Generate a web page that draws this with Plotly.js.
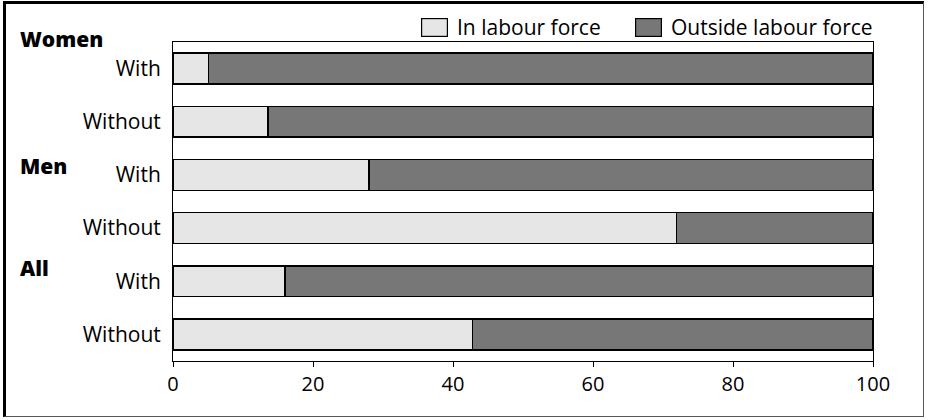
<!DOCTYPE html>
<html>
<head>
<meta charset="utf-8">
<script src="https://cdn.plot.ly/plotly-3.0.1.min.js"></script>
<style>
  html, body { margin: 0; padding: 0; background: #fff; }
  #wrap { position: relative; width: 928px; height: 420px; }
  #chart { width: 928px; height: 420px; }
  #frame {
    position: absolute; left: 3px; top: 1px; width: 921px; height: 416px;
    border-left: 3px solid #000; border-top: 3px solid #000;
    border-right: 1px solid #555; border-bottom: 1px solid #555;
    box-sizing: border-box; pointer-events: none;
  }
</style>
</head>
<body>
<div id="wrap"><div id="chart"></div><div id="frame"></div></div>
<script>
// Data
const categories = ["Women With", "Women Without", "Men With", "Men Without", "All With", "All Without"];
const tickLabels = ["With", "Without", "With", "Without", "With", "Without"];
const inLabour = [5.1, 13.6, 28.0, 71.9, 16.0, 42.8];
const outsideLabour = [94.9, 86.4, 72.0, 28.1, 84.0, 57.2];
const seriesNames = ["In labour force", "Outside labour force"];
const seriesColors = ["#e6e6e6", "#777777"];
const groupLabels = ["Women", "Men", "All"];
const xTicks = [0, 20, 40, 60, 80, 100];

const FONT = "Open Sans, Noto Sans, sans-serif";

const traces = [inLabour, outsideLabour].map((vals, i) => ({
  type: "bar", orientation: "h", name: seriesNames[i],
  y: categories, x: vals,
  marker: { color: seriesColors[i], line: { color: "#000", width: 1.5 } },
  hoverinfo: "x", showlegend: false
}));

// group label vertical positions (paper units)
const groupY = [1.01, 0.611, 0.292];

// legend placement (paper units) — swatch centres and text left edges
const legendY = 1.047;
const swatchX = [0.373, 0.679];
const legendTextX = [0.403, 0.709];

const annotations = groupLabels.map((g, i) => ({
  text: g, xref: "paper", yref: "paper",
  x: -0.222, xanchor: "left", y: groupY[i], yanchor: "middle",
  showarrow: false,
  font: { family: FONT, size: 21, weight: 900, color: "#000" }
}));

seriesNames.forEach((name, i) => {
  annotations.push({
    text: " ", xref: "paper", yref: "paper",
    x: swatchX[i], xanchor: "center", y: legendY, yanchor: "middle",
    showarrow: false, width: 25, height: 17,
    bgcolor: seriesColors[i], bordercolor: "#000", borderwidth: 1.2, borderpad: 0,
    font: { size: 6 }
  });
  annotations.push({
    text: name, xref: "paper", yref: "paper",
    x: legendTextX[i], xanchor: "left", y: legendY, yanchor: "middle",
    showarrow: false,
    font: { family: FONT, size: 21, color: "#000" }
  });
});

const layout = {
  width: 928, height: 420,
  margin: { l: 173, r: 55, t: 42, b: 59, autoexpand: false },
  paper_bgcolor: "#fff", plot_bgcolor: "#fff",
  barmode: "stack",
  bargap: 0.42,
  font: { family: FONT, size: 20, color: "#000" },
  showlegend: false,
  xaxis: {
    range: [0, 100], tickvals: xTicks, ticktext: xTicks.map(String),
    showgrid: false, zeroline: false,
    showline: true, linecolor: "#000", linewidth: 1, mirror: true,
    ticks: "outside", ticklen: 5, tickcolor: "#000",
    tickfont: { family: FONT, size: 20 }
  },
  yaxis: {
    type: "category", autorange: "reversed",
    tickvals: categories, ticktext: tickLabels,
    showgrid: false, zeroline: false,
    showline: true, linecolor: "#000", linewidth: 1, mirror: true,
    ticks: "", ticklabelstandoff: 7,
    tickfont: { family: FONT, size: 21 }
  },
  annotations: annotations
};

Plotly.newPlot("chart", traces, layout, { displayModeBar: false, staticPlot: true });
</script>
</body>
</html>
